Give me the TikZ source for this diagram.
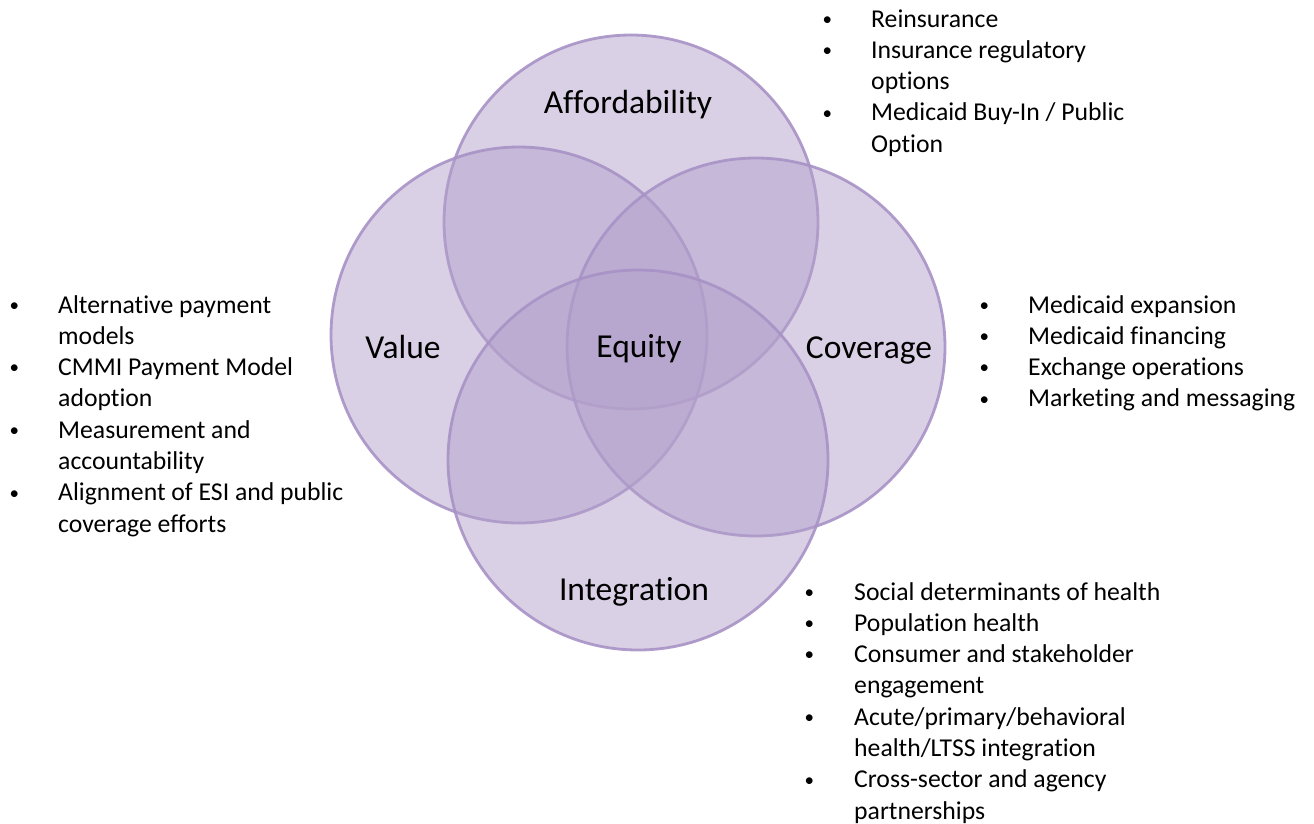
\documentclass[tikz,border=0pt]{standalone}
\usepackage{fontspec}
\setmainfont[Ligatures=NoCommon]{Carlito}
\definecolor{cfill}{RGB}{179,161,203}
\definecolor{cline}{RGB}{168,146,198}
\tikzset{
  venn/.style={circle, fill=cfill, fill opacity=0.5, draw=cline, draw opacity=0.9, line width=2.8pt, inner sep=0pt, outer sep=0pt},
  lbl/.style={font=\fontsize{33.5}{40}\selectfont, anchor=base, inner sep=0pt, text=black},
  blist/.style={font=\fontsize{25.7}{31.3}\selectfont, anchor=base west, inner sep=0pt, text=black}
}
\newcommand{\bul}[1]{\makebox[#1][l]{\hspace*{2.4pt}\raisebox{1.8pt}{\fontsize{19}{19}\selectfont •}}}
\begin{document}
\begin{tikzpicture}[x=1pt,y=-1pt]
\useasboundingbox (0,0) rectangle (1314,823);
% circles
\node[venn, minimum size=374pt] (aff) at (631,222) {};
\node[venn, minimum size=376pt] (val) at (519,335) {};
\node[venn, minimum size=378pt] (cov) at (756,347) {};
\node[venn, minimum size=380pt] (int) at (638,460) {};
% labels
\node[lbl] (laff) at (628,113) {Affordability};
\node[lbl] (lval) at (403,358) {Value};
\node[lbl] (lcov) at (869,358) {Coverage};
\node[lbl] (lint) at (634,600) {Integration};
\node[lbl] (leq) at (639,357) {Equity};
% lists
\node[blist] (laffl) at (820,27) {\begin{tabular}[t]{@{}l@{}l@{}}
\bul{51pt} & Reinsurance\\
\bul{51pt} & Insurance regulatory\\
 & options\\
\bul{51pt} & Medicaid Buy-In / Public\\
 & Option
\end{tabular}};
\node[blist] (lvall) at (7,313) {\begin{tabular}[t]{@{}l@{}l@{}}
\bul{51pt} & Alternative payment\\
 & models\\
\bul{51pt} & CMMI Payment Model\\
 & adoption\\
\bul{51pt} & Measurement and\\
 & accountability\\
\bul{51pt} & Alignment of ESI and public\\
 & coverage efforts
\end{tabular}};
\node[blist] (lcovl) at (977,313) {\begin{tabular}[t]{@{}l@{}l@{}}
\bul{51pt} & Medicaid expansion\\
\bul{51pt} & Medicaid financing\\
\bul{51pt} & Exchange operations\\
\bul{51pt} & Marketing and messaging
\end{tabular}};
\node[blist] (lintl) at (802,600) {\begin{tabular}[t]{@{}l@{}l@{}}
\bul{52pt} & Social determinants of health\\
\bul{52pt} & Population health\\
\bul{52pt} & Consumer and stakeholder\\
 & engagement\\
\bul{52pt} & Acute/primary/behavioral\\
 & health/LTSS integration\\
\bul{52pt} & Cross-sector and agency\\
 & partnerships
\end{tabular}};
\end{tikzpicture}
\end{document}
